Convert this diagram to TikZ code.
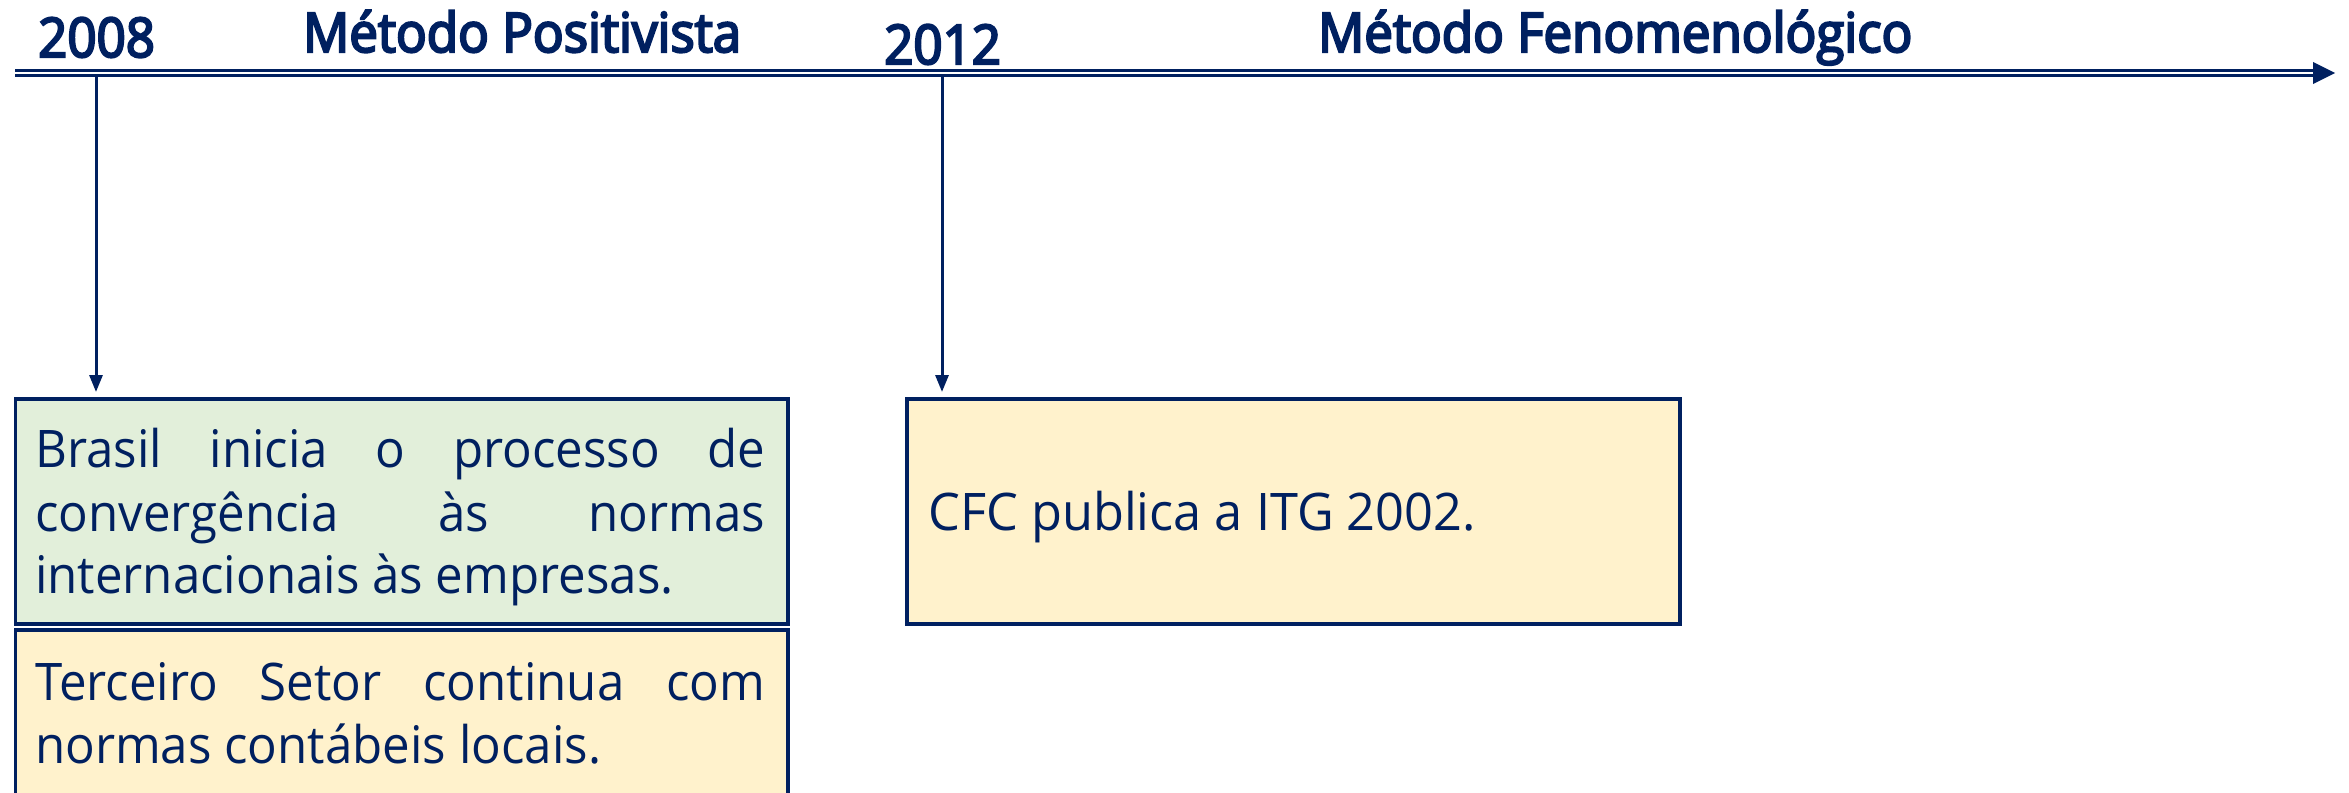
\documentclass[tikz,border=0pt]{standalone}
\usepackage{fontspec}
\setmainfont{Open Sans}[FakeStretch=0.95]
\newfontfamily\titlefont{Open Sans}[FakeStretch=0.935, FakeBold=4]
\usetikzlibrary{arrows.meta,calc}
\definecolor{navy}{HTML}{002060}
\definecolor{boxgreen}{HTML}{E2EFDA}
\definecolor{boxyellow}{HTML}{FFF2CC}
\tikzset{
  timeline/.style={draw=navy, line width=3pt, double=white, double distance=2.5pt},
  drop/.style={draw=navy, line width=3pt, -{Triangle[length=17pt,width=13pt]}},
  card/.style={draw=navy, line width=3.5pt, rectangle, inner sep=0pt},
  bodytext/.style={text=navy, inner sep=0pt, anchor=base west, font=\fontsize{51.8}{63}\selectfont},
  titletext/.style={text=navy, inner sep=0pt, anchor=base west, font=\titlefont\fontsize{54.6}{60}\selectfont},
}
\begin{document}
\begin{tikzpicture}[x=1pt,y=-1pt]
\useasboundingbox (0,0) rectangle (2349,792);
\clip (0,0) rectangle (2349,792);
% timeline
\coordinate (tstart) at (15,73);
\coordinate (tend) at (2313,73);
\coordinate (ttip) at (2335,73);
\draw[timeline] (tstart) -- (tend);
\fill[navy] ($(tend)+(0,-11)$) -- (ttip) -- ($(tend)+(0,11)$) -- cycle;
% titles
\node[titletext] (y08) at (38,57) {2008};
\node[titletext] (mp) at (303,52) {Método Positivista};
\node[titletext] (y12) at (884,64) {2012};
\node[titletext] (mf) at (1318,52) {Método Fenomenológico};
% boxes
\node[card, fill=boxgreen, minimum width=772.5pt, minimum height=225pt, anchor=north west] (b1) at (13.5,397) {};
\node[card, fill=boxyellow, minimum width=772.5pt, minimum height=230pt, anchor=north west] (b2) at (13.5,628) {};
\node[card, fill=boxyellow, minimum width=773pt, minimum height=225pt, anchor=north west] (b3) at (905,397) {};
% drop arrows
\coordinate (d08) at (96,77);
\coordinate (d12) at (942,77);
\draw[drop, shorten >=5pt] (d08) -- (d08 |- b1.north);
\draw[drop, shorten >=5pt] (d12) -- (d12 |- b3.north);
% texts
\node[bodytext] (t1a) at (35,467) {\makebox[730pt][s]{Brasil inicia o processo de}};
\node[bodytext] (t1b) at (35,531) {\makebox[730pt][s]{convergência às normas}};
\node[bodytext] (t1c) at (35,593) {internacionais às empresas.};
\node[bodytext] (t2a) at (35,700) {\makebox[730pt][s]{Terceiro Setor continua com}};
\node[bodytext] (t2b) at (35,763) {normas contábeis locais.};
\node[bodytext] (t3) at (928,530) {\addfontfeature{FakeStretch=0.975}CFC publica a ITG 2002.};
\end{tikzpicture}
\end{document}
